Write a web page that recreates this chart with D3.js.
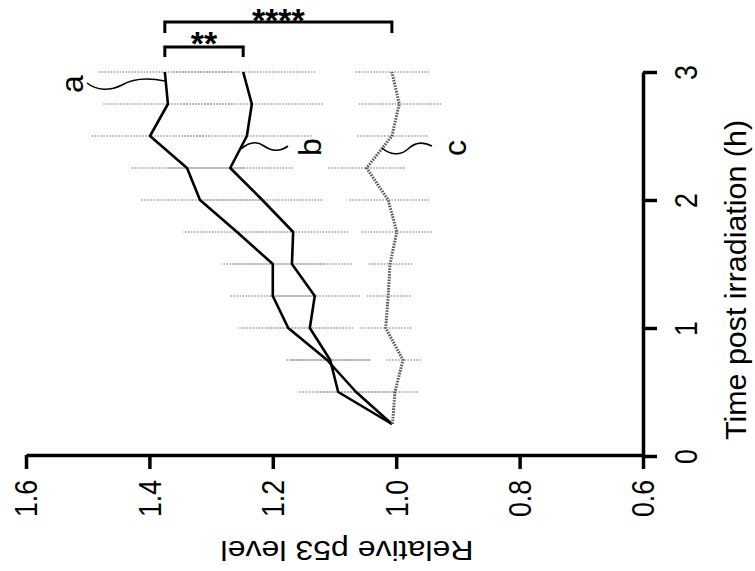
<!DOCTYPE html>
<html>
<head>
<meta charset="utf-8">
<script src="https://cdn.jsdelivr.net/npm/d3@7"></script>
<style>
  html, body { margin: 0; padding: 0; background: #fff; }
  svg { display: block; }
  text { font-family: "Liberation Sans Narrow", "Arial Narrow", "Liberation Sans", Arial, sans-serif; fill: #000; }
</style>
</head>
<body>
<svg id="chart" width="755" height="571"></svg>
<script>
// ---- data ----
const times   = [0.25, 0.5, 0.75, 1.0, 1.25, 1.5, 1.75, 2.0, 2.25, 2.5, 2.75, 3.0];
const seriesA = [1.007, 1.065, 1.112, 1.175, 1.200, 1.200, 1.258, 1.318, 1.339, 1.399, 1.370, 1.375];
const errA    = [0, 0.065, 0.068, 0.081, 0.070, 0.083, 0.088, 0.097, 0.092, 0.097, 0.105, 0.109];
const seriesB = [1.007, 1.094, 1.107, 1.140, 1.132, 1.169, 1.167, 1.217, 1.269, 1.242, 1.234, 1.248];
const errB    = [0, 0.066, 0.065, 0.070, 0.073, 0.097, 0.089, 0.097, 0.102, 0.105, 0.115, 0.117];
const seriesC = [1.006, 1.002, 0.989, 1.017, 1.013, 1.010, 0.999, 1.013, 1.048, 1.007, 0.995, 1.007];
const errC    = [0, 0.037, 0.029, 0.042, 0.036, 0.036, 0.057, 0.066, 0.062, 0.058, 0.068, 0.060];
const seriesNames = ["a", "b", "c"];
const valueTicks = [0.6, 0.8, 1.0, 1.2, 1.4, 1.6];
const timeTicks = [0, 1, 2, 3];
const valueTitle = "Relative p53 level";
const timeTitle = "Time post irradiation (h)";
const sigShort = "**";
const sigLong = "****";

// ---- scales (chart is drawn rotated: value runs right-to-left, time runs bottom-to-top) ----
const svg = d3.select("#chart");
const x = d3.scaleLinear().domain([0.6, 1.6]).range([643, 26]);
const y = d3.scaleLinear().domain([0, 3]).range([456, 72]);

// ---- error bars ----
const series = [
  { name: seriesNames[0], v: seriesA, e: errA },
  { name: seriesNames[1], v: seriesB, e: errB },
  { name: seriesNames[2], v: seriesC, e: errC }
];
const eb = svg.append("g");
series.forEach(s => {
  times.forEach((t, i) => {
    if (s.e[i] <= 0) return;
    eb.append("line")
      .attr("x1", x(s.v[i] - s.e[i])).attr("x2", x(s.v[i] + s.e[i]))
      .attr("y1", y(t)).attr("y2", y(t))
      .attr("stroke", "#b4b4b4").attr("stroke-width", 2)
      .attr("stroke-dasharray", "1.5,1.5");
  });
});

// ---- lines ----
const line = d3.line().x(d => x(d[1])).y(d => y(d[0]));
const styles = [
  { stroke: "#000", width: 2.6, dash: null },
  { stroke: "#000", width: 2.6, dash: null },
  { stroke: "#5a5a5a", width: 3, dash: "1.6,1.2" }
];
series.forEach((s, k) => {
  svg.append("path")
    .datum(times.map((t, i) => [t, s.v[i]]))
    .attr("d", line)
    .attr("fill", "none")
    .attr("stroke", styles[k].stroke)
    .attr("stroke-width", styles[k].width)
    .attr("stroke-linejoin", "round")
    .attr("stroke-dasharray", styles[k].dash);
});

// ---- axes ----
const squeeze = 0.86;
const gv = svg.append("g").attr("transform", "translate(0,455)")
  .call(d3.axisBottom(x).tickValues(valueTicks).tickFormat(d3.format(".1f")).tickSize(14).tickSizeOuter(0));
gv.select(".domain").attr("stroke-width", 3.5);
gv.selectAll(".tick line").attr("stroke-width", 3.5);
gv.selectAll(".tick text")
  .attr("transform", `rotate(-90) scale(${squeeze},1)`)
  .attr("x", -25 / squeeze).attr("y", 0).attr("dy", "0.35em")
  .attr("text-anchor", "end")
  .style("font-size", "31px");

const gt = svg.append("g").attr("transform", "translate(643,0)")
  .call(d3.axisRight(y).tickValues(timeTicks).tickFormat(d3.format("d")).tickSize(14).tickSizeOuter(0));
gt.select(".domain").attr("stroke-width", 3.5);
gt.selectAll(".tick line").attr("stroke-width", 3.5);
gt.selectAll(".tick text")
  .attr("transform", `rotate(-90) scale(${squeeze},1)`)
  .attr("x", 0).attr("y", 43).attr("dy", "0.35em")
  .attr("text-anchor", "middle")
  .style("font-size", "31px");

svg.selectAll(".domain, .tick line").attr("stroke", "#000");

// ---- axis titles ----
svg.append("text")
  .attr("transform", "translate(347,551) rotate(180)")
  .attr("text-anchor", "middle").attr("dy", "0.35em")
  .attr("textLength", 253).attr("lengthAdjust", "spacingAndGlyphs")
  .style("font-size", "28px")
  .text(valueTitle);
svg.append("text")
  .attr("transform", "translate(736,280) rotate(-90)")
  .attr("text-anchor", "middle").attr("dy", "0.35em")
  .attr("textLength", 320).attr("lengthAdjust", "spacingAndGlyphs")
  .style("font-size", "29px")
  .text(timeTitle);

// ---- series labels with wavy leaders ----
const last = times.length - 1;
const leaders = [
  { path: "M87,83 C97,91 110,91 122,85 C134,78 150,78 165,81", lx: 72, ly: 84 },
  { path: "M241,149 C249,142 257,141 264,146 C271,151 280,152 288,146", lx: 310, ly: 147 },
  { path: "M382,148 C390,155 400,156 408,149 C415,142 424,142 432,146", lx: 455, ly: 148 }
];
leaders.forEach((l, k) => {
  svg.append("path").attr("d", l.path).attr("fill", "none")
    .attr("stroke", "#000").attr("stroke-width", 1.6);
  svg.append("text")
    .attr("transform", `translate(${l.lx},${l.ly}) rotate(-90)`)
    .attr("text-anchor", "middle").attr("dy", "0.35em")
    .style("font-size", "32px")
    .text(seriesNames[k]);
});

// ---- significance brackets ----
function bracket(x1, x2, yTop, leg, label, ty) {
  svg.append("path")
    .attr("d", `M${x1},${yTop + leg} V${yTop} H${x2} V${yTop + leg}`)
    .attr("fill", "none").attr("stroke", "#000").attr("stroke-width", 3);
  svg.append("text")
    .attr("x", (x1 + x2) / 2).attr("y", ty)
    .attr("text-anchor", "middle")
    .style("font-family", "Liberation Sans, Arial, sans-serif")
    .style("font-size", "34px").style("font-weight", "bold")
    .text(label);
}
bracket(x(seriesA[last]), x(seriesB[last]), 47, 10, sigShort, 55);
bracket(x(seriesA[last]), x(seriesC[last]), 22, 11, sigLong, 32);
</script>
</body>
</html>
